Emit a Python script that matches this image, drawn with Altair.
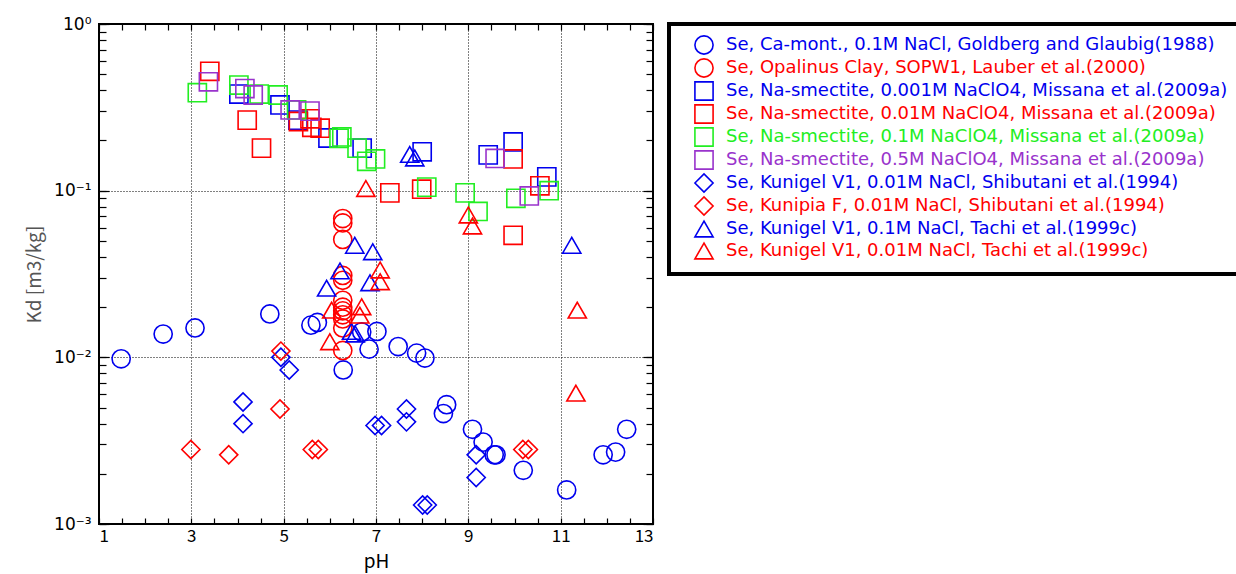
import altair as alt
import pandas as pd

# ---------------- data ----------------
series_names = [
    "Se, Ca-mont., 0.1M NaCl, Goldberg and Glaubig(1988)",
    "Se, Opalinus Clay, SOPW1, Lauber et al.(2000)",
    "Se, Na-smectite, 0.001M NaClO4, Missana et al.(2009a)",
    "Se, Na-smectite, 0.01M NaClO4, Missana et al.(2009a)",
    "Se, Na-smectite, 0.1M NaClO4, Missana et al.(2009a)",
    "Se, Na-smectite, 0.5M NaClO4, Missana et al.(2009a)",
    "Se, Kunigel V1, 0.01M NaCl, Shibutani et al.(1994)",
    "Se, Kunipia F, 0.01M NaCl, Shibutani et al.(1994)",
    "Se, Kunigel V1, 0.1M NaCl, Tachi et al.(1999c)",
    "Se, Kunigel V1, 0.01M NaCl, Tachi et al.(1999c)",
]
series_colors = ["#0000ee", "#ff0000", "#0000ee", "#ff0000", "#22ee22",
                 "#9933cc", "#0000ee", "#ff0000", "#0000ee", "#ff0000"]
series_shapes = ["circle", "circle", "square", "square", "square", "square",
                 "diamond", "diamond", "triangle-up", "triangle-up"]
series_sizes = [330, 330, 330, 330, 330, 330, 340, 340, 400, 400]

goldberg_ph = [1.48, 2.39, 3.08, 4.70, 5.59, 5.73, 6.29, 6.69, 7.02, 6.85, 7.48, 7.88,
               8.06, 8.53, 8.46, 9.09, 9.32, 9.56, 9.60, 10.19, 11.13, 11.92, 12.19, 12.43]
goldberg_kd = [0.0098, 0.0138, 0.0150, 0.0182, 0.0156, 0.0162, 0.0084, 0.0142, 0.0143,
               0.0112, 0.0116, 0.0106, 0.0099, 0.0052, 0.0046, 0.0037, 0.0031, 0.0026,
               0.0026, 0.0021, 0.0016, 0.0026, 0.0027, 0.0037]

lauber_ph = [6.28] * 12
lauber_kd = [0.068, 0.064, 0.051, 0.031, 0.029, 0.022, 0.020, 0.019, 0.018, 0.017,
             0.015, 0.011]

missana001_ph = [4.03, 4.92, 5.31, 5.96, 6.70, 8.00, 9.43, 9.97, 10.70]
missana001_kd = [0.38, 0.327, 0.265, 0.207, 0.180, 0.171, 0.164, 0.196, 0.121]

missana01_ph = [3.40, 4.21, 4.52, 5.32, 5.57, 5.61, 5.79, 7.30, 7.99, 9.97, 10.55, 9.97]
missana01_kd = [0.52, 0.265, 0.18, 0.26, 0.27, 0.24, 0.237, 0.097, 0.102, 0.155, 0.107,
                0.054]

missana1_ph = [3.13, 4.03, 4.47, 4.88, 5.28, 6.20, 6.26, 6.59, 6.80, 6.99, 8.10, 8.93,
               9.21, 10.03, 10.75]
missana1_kd = [0.387, 0.43, 0.38, 0.375, 0.305, 0.206, 0.21, 0.18, 0.15, 0.155, 0.105,
               0.097, 0.075, 0.09, 0.10]

missana5_ph = [3.37, 4.16, 4.34, 5.14, 5.57, 9.58, 10.32]
missana5_kd = [0.45, 0.41, 0.375, 0.305, 0.30, 0.156, 0.093]

shib_kv1_ph = [4.12, 4.12, 4.94, 5.12, 6.98, 7.12, 7.66, 7.66, 8.01, 8.11, 9.17, 9.17]
shib_kv1_kd = [0.0054, 0.0040, 0.0100, 0.0084, 0.0039, 0.0039, 0.0049, 0.0041, 0.0013,
               0.0013, 0.0026, 0.0019]

shib_kf_ph = [2.99, 3.81, 4.94, 4.92, 5.62, 5.75, 10.18, 10.30]
shib_kf_kd = [0.0028, 0.0026, 0.0109, 0.0049, 0.0028, 0.0028, 0.0028, 0.0028]

tachi1_ph = [6.54, 6.93, 6.22, 5.93, 6.87, 6.47, 6.55, 7.73, 7.84, 11.24]
tachi1_kd = [0.047, 0.043, 0.033, 0.026, 0.028, 0.0143, 0.0138, 0.165, 0.157, 0.047]

tachi01_ph = [6.78, 7.09, 7.09, 6.04, 6.69, 6.65, 6.00, 9.00, 9.09, 11.36, 11.33]
tachi01_kd = [0.103, 0.0334, 0.0284, 0.0192, 0.0201, 0.0179, 0.0124, 0.0714, 0.0614,
              0.0192, 0.0061]

x_label_values = [1, 3, 5, 7, 9, 11, 13]
y_label_values = [0.001, 0.01, 0.1, 1]
x_tick_values = [1 + 0.5 * i for i in range(25)]
y_tick_values = [k * 10.0 ** e for e in (-3, -2, -1) for k in range(1, 10)] + [1.0]

# ---------------- build table ----------------
all_ph = [goldberg_ph, lauber_ph, missana001_ph, missana01_ph, missana1_ph,
          missana5_ph, shib_kv1_ph, shib_kf_ph, tachi1_ph, tachi01_ph]
all_kd = [goldberg_kd, lauber_kd, missana001_kd, missana01_kd, missana1_kd,
          missana5_kd, shib_kv1_kd, shib_kf_kd, tachi1_kd, tachi01_kd]
rows = []
for name, phs, kds in zip(series_names, all_ph, all_kd):
    for p, k in zip(phs, kds):
        rows.append({"pH": p, "Kd": k, "series": name})
df = pd.DataFrame(rows)

FONT = "Noto Sans CJK JP"
LFONT = "DejaVu Sans"
xscale = alt.Scale(domain=[1, 13], nice=False, zero=False)
yscale = alt.Scale(type="log", domain=[0.001, 1], nice=False)

label_expr = ("datum.value < 0.005 ? '10⁻³' : datum.value < 0.05 ? '10⁻²' : "
              "datum.value < 0.5 ? '10⁻¹' : '10⁰'")

main = alt.Chart(df).mark_point(filled=False, strokeWidth=1.6, opacity=1).encode(
    x=alt.X("pH:Q", scale=xscale, axis=alt.Axis(
        orient="bottom", values=x_label_values, title="pH", domain=False, ticks=False,
        labelFontSize=17, labelFont=FONT, labelColor="black", labelPadding=4,
        titleFontSize=19, titleFont=FONT, titleFontWeight="normal", titleColor="black",
        titlePadding=8, grid=True, gridColor="black", gridDash=[1, 2], gridWidth=1,
        gridOpacity=1)),
    y=alt.Y("Kd:Q", scale=yscale, axis=alt.Axis(
        orient="left", values=y_label_values, labelExpr=label_expr,
        title="Kd [m3/kg]", domain=False, ticks=False,
        labelFontSize=17, labelFont="DejaVu Sans", labelColor="black", labelPadding=8,
        titleFontSize=19, titleFont=FONT, titleFontWeight="normal", titleColor="#555555",
        titlePadding=9, grid=True, gridColor="black", gridDash=[1, 2], gridWidth=1,
        gridOpacity=1)),
    color=alt.Color("series:N", scale=alt.Scale(domain=series_names, range=series_colors),
                    legend=alt.Legend(
                        title=None, orient="none", legendX=570, legendY=0,
                        labelFont=LFONT, labelFontSize=18, labelLimit=0,
                        labelColor=alt.ExprRef(expr="scale('color', datum.value)"),
                        symbolStrokeWidth=1.6, symbolFillColor="transparent",
                        symbolOffset=14, labelOffset=12, rowPadding=-4, padding=11,
                        fillColor="white", strokeColor="black")),
    shape=alt.Shape("series:N", scale=alt.Scale(domain=series_names, range=series_shapes)),
    size=alt.Size("series:N", scale=alt.Scale(domain=series_names, range=series_sizes)),
)

def tick_layer(xaxis, yaxis):
    return alt.Chart(df).mark_point(opacity=0).encode(
        x=alt.X("pH:Q", scale=xscale, axis=xaxis),
        y=alt.Y("Kd:Q", scale=yscale, axis=yaxis),
    )

def tick_axis(orient, values, size):
    return alt.Axis(orient=orient, values=values, offset=-size, tickSize=size,
                    labels=False, domain=False, grid=False, title=None,
                    tickColor="black", tickWidth=1.2)

bottom = tick_layer(tick_axis("bottom", x_tick_values, 6), None)
top = tick_layer(tick_axis("top", x_tick_values, 6), None)
left = tick_layer(None, tick_axis("left", y_tick_values, 7))
right = tick_layer(None, tick_axis("right", y_tick_values, 7))
left_major = tick_layer(None, tick_axis("left", y_label_values, 10))
right_major = tick_layer(None, tick_axis("right", y_label_values, 10))

chart = alt.layer(main, bottom, top, left, right, left_major, right_major).resolve_axis(
    x="independent", y="independent"
).properties(
    width=554, height=500,
    autosize=alt.AutoSizeParams(type="none"),
    padding={"left": 99, "top": 24, "right": 583, "bottom": 50},
    background="white",
).configure_view(stroke="black", strokeWidth=2)

legend_cfg_props = alt.LegendConfig.resolve_references().get("properties", {})
if "strokeWidth" in legend_cfg_props:
    chart = chart.configure_legend(strokeWidth=4)

chart.save("out.html", embed_options={"renderer": "svg", "actions": False})
